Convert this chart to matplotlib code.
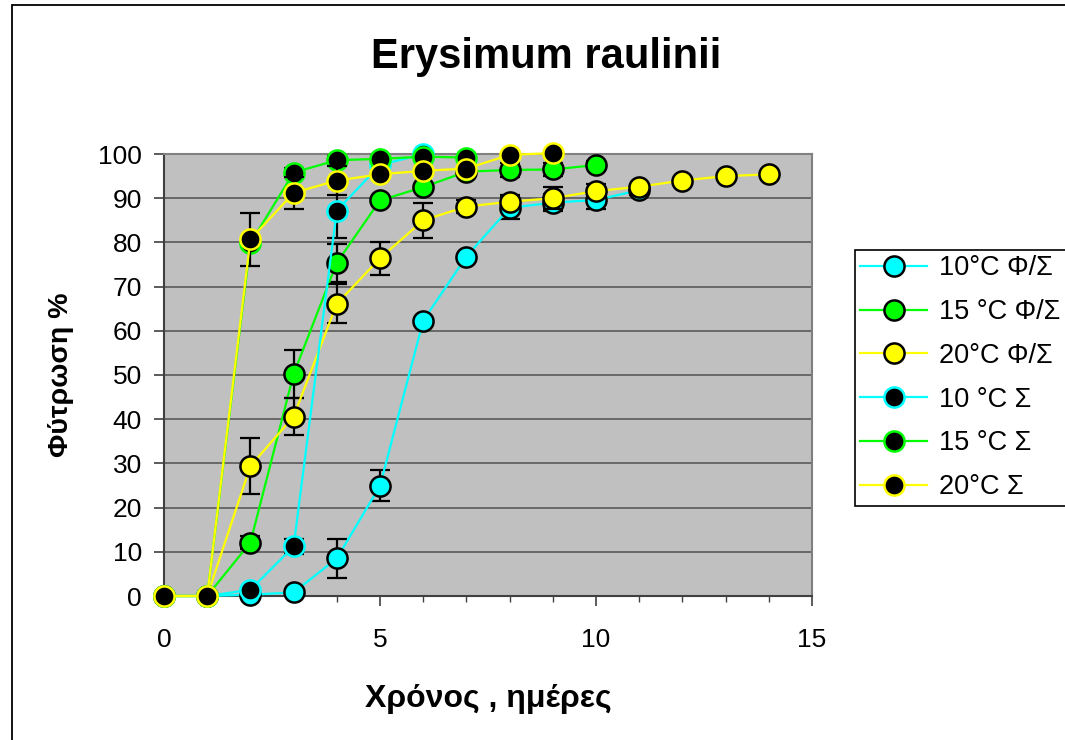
import matplotlib
matplotlib.use('Agg')
import matplotlib.pyplot as plt
from matplotlib.patches import Rectangle
import numpy as np

plt.rcParams['font.family'] = ['Liberation Sans', 'DejaVu Sans']

# data (days, germination %)
days_10_fs = [0, 1, 2, 3, 4, 5, 6, 7, 8, 9, 10, 11]
germ_10_fs = [0, 0, 0.3, 0.8, 8.5, 24.9, 62.3, 76.8, 87.8, 89.0, 89.6, 91.8]
err_10_fs = [0, 0, 0, 0, 4.5, 3.5, 0, 0, 2.5, 2.0, 2.0, 1.0]

days_15_fs = [0, 1, 2, 3, 4, 5, 6, 7, 8, 9, 10]
germ_15_fs = [0, 0, 12.1, 50.2, 75.4, 89.5, 92.5, 96.0, 96.4, 96.5, 97.5]
err_15_fs = [0, 0, 1.5, 5.5, 4.3, 0, 0, 0, 1.5, 1.5, 1.0]

days_20_fs = [0, 1, 2, 3, 4, 5, 6, 7, 8, 9, 10, 11, 12, 13, 14]
germ_20_fs = [0, 0, 29.4, 40.6, 66.1, 76.4, 85.0, 88.1, 89.2, 90.0, 91.6, 92.6, 94.0, 95.0, 95.4]
err_20_fs = [0, 0, 6.4, 4.2, 4.4, 3.8, 4.0, 1.5, 1.5, 2.5, 1.5, 0, 0, 0, 0]

days_10_s = [0, 1, 2, 3, 4, 5, 6]
germ_10_s = [0, 0, 1.4, 11.2, 87.2, 97.5, 100.0]
err_10_s = [0, 0, 0, 1.8, 6.1, 0, 0]

days_15_s = [0, 1, 2, 3, 4, 5, 6, 7]
germ_15_s = [0, 0, 79.8, 95.8, 98.6, 98.9, 99.4, 99.2]
err_15_s = [0, 0, 0, 1.0, 1.0, 0, 0, 0]

days_20_s = [0, 1, 2, 3, 4, 5, 6, 7, 8, 9]
germ_20_s = [0, 0, 80.7, 91.2, 94.0, 95.4, 96.2, 96.7, 99.8, 100.2]
err_20_s = [0, 0, 6.0, 3.7, 3.3, 0, 0, 0, 0, 0]

labels = ['10°C Φ/Σ', '15 °C Φ/Σ', '20°C Φ/Σ', '10 °C Σ', '15 °C Σ', '20°C Σ']

series = [
    (days_10_fs, germ_10_fs, err_10_fs, '#00FFFF', '#00FFFF', 'black'),
    (days_15_fs, germ_15_fs, err_15_fs, '#00FF00', '#00FF00', 'black'),
    (days_20_fs, germ_20_fs, err_20_fs, '#FFFF00', '#FFFF00', 'black'),
    (days_10_s, germ_10_s, err_10_s, '#00FFFF', 'black', '#00FFFF'),
    (days_15_s, germ_15_s, err_15_s, '#00FF00', 'black', '#00FF00'),
    (days_20_s, germ_20_s, err_20_s, '#FFFF00', 'black', '#FFFF00'),
]

fig = plt.figure(figsize=(10.65, 7.4), dpi=100)
ax = fig.add_axes([164/1065, 1-596/740, (812-164)/1065, (596-154)/740])
ax.set_facecolor('#C0C0C0')

for i, (x, y, e, lc, fc, ec) in enumerate(series):
    x = np.array(x); y = np.array(y); e = np.array(e)
    m = e > 0
    ax.errorbar(x[m], y[m], yerr=e[m], fmt='none', ecolor='black',
                elinewidth=1.6, capsize=7, capthick=1.6, zorder=3 + 2*i, clip_on=False)
    ax.plot(x, y, color=lc, lw=1.6, marker='o', markersize=14.5,
            markerfacecolor=fc, markeredgecolor=ec, markeredgewidth=1.8,
            label=labels[i], zorder=4 + 2*i, clip_on=False)

ax.set_xlim(0, 15)
ax.set_ylim(0, 100)
ax.set_xticks([0, 5, 10, 15])
ax.set_xticks(np.arange(0, 16, 1), minor=True)
ax.set_yticks(np.arange(0, 101, 10))
ax.grid(axis='y', color='#505050', lw=1.1, zorder=1)
ax.set_axisbelow(True)

for s in ['top', 'right']:
    ax.spines[s].set_color('#808080')
    ax.spines[s].set_linewidth(1.5)
for s in ['left', 'bottom']:
    ax.spines[s].set_color('#404040')
    ax.spines[s].set_linewidth(1.5)

ax.tick_params(axis='y', which='major', direction='out', length=7, width=1.2,
               color='#404040', labelsize=19, pad=9)
ax.tick_params(axis='x', which='major', direction='out', length=7, width=1.2,
               color='#404040', labelsize=19, pad=16)
ax.tick_params(axis='x', which='minor', direction='out', length=4, width=1.0,
               color='#404040')

# title is centred on the whole chart area, not the plot area
fig.text(546/1065, 1-57/740, 'Erysimum raulinii', fontsize=30, fontweight='bold',
         ha='center', va='center')
ax.set_xlabel('Χρόνος , ημέρες', fontsize=23, fontweight='bold', labelpad=23)
ax.set_ylabel('Φύτρωση %', fontsize=20.5, fontweight='bold', labelpad=17)

leg = ax.legend(loc='upper left', bbox_to_anchor=(855/1065, 1-250/740),
                bbox_transform=fig.transFigure, fontsize=19.5, frameon=True,
                fancybox=False, edgecolor='black', framealpha=1,
                handlelength=2.45, handletextpad=0.45, labelspacing=0.655,
                borderpad=0.2, borderaxespad=0)
leg.get_frame().set_linewidth(1.2)

# outer chart border (partly cropped in the original)
fig.patches.append(Rectangle((12/1065, -0.1), 1.2, 1.1 - 5/740,
                             transform=fig.transFigure, fill=False,
                             edgecolor='black', lw=1.3))

fig.savefig('out.png', dpi=100, facecolor='w')
